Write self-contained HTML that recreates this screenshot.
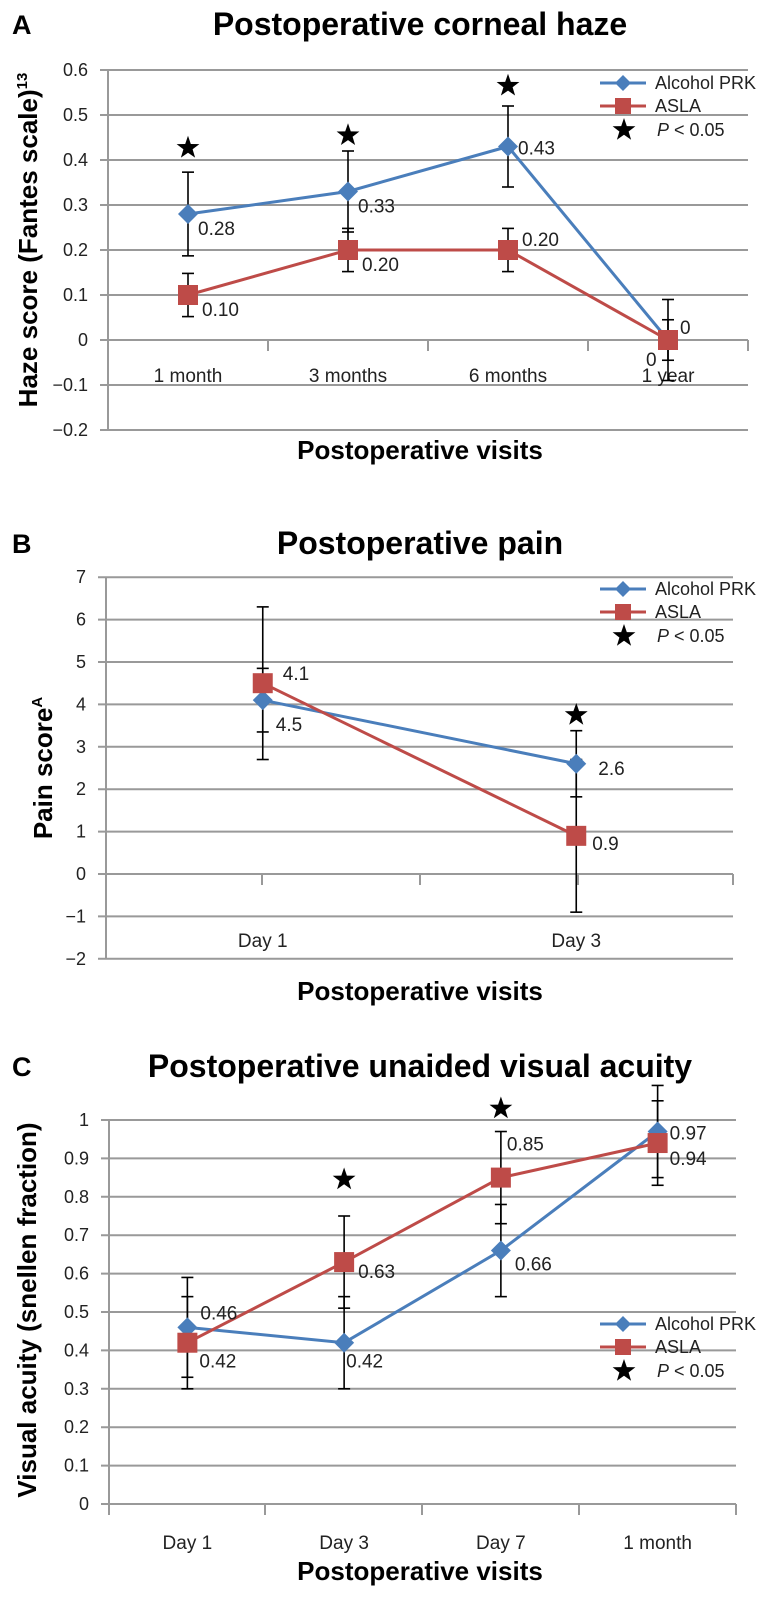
<!DOCTYPE html>
<html><head><meta charset="utf-8">
<style>
html,body{margin:0;padding:0;background:#fff;}
svg{display:block;font-family:"Liberation Sans",Arial,sans-serif;}
</style></head>
<body>
<svg id="fig" width="781" height="1600" viewBox="0 0 781 1600" xmlns="http://www.w3.org/2000/svg">
</svg>
<script>
// ---------- Panel A data ----------
const aCats = ["1 month","3 months","6 months","1 year"];
const aPrk = [0.28,0.33,0.43,0];
const aPrkErr = [0.093,0.09,0.09,0.09];
const aAsla = [0.10,0.20,0.20,0];
const aAslaErr = [0.048,0.048,0.048,0.045];
const aPrkLbl = ["0.28","0.33","0.43","0"];
const aAslaLbl = ["0.10","0.20","0.20","0"];
const aStars = [0.427,0.455,0.565,null];
const aTicks = [0.6,0.5,0.4,0.3,0.2,0.1,0,-0.1,-0.2];
const aTickLbl = ["0.6","0.5","0.4","0.3","0.2","0.1","0","\u22120.1","\u22120.2"];
// ---------- Panel B data ----------
const bCats = ["Day 1","Day 3"];
const bPrk = [4.1,2.6];
const bPrkErr = [0.75,0.78];
const bAsla = [4.5,0.9];
const bAslaErr = [1.8,1.8];
const bPrkLbl = ["4.5","2.6"];
const bAslaLbl = ["4.1","0.9"];
const bStars = [null,3.75];
const bTicks = [7,6,5,4,3,2,1,0,-1,-2];
const bTickLbl = ["7","6","5","4","3","2","1","0","\u22121","\u22122"];
// ---------- Panel C data ----------
const cCats = ["Day 1","Day 3","Day 7","1 month"];
const cPrk = [0.46,0.42,0.66,0.97];
const cPrkErr = [0.13,0.12,0.12,0.12];
const cAsla = [0.42,0.63,0.85,0.94];
const cAslaErr = [0.12,0.12,0.12,0.11];
const cPrkLbl = ["0.46","0.42","0.66","0.97"];
const cAslaLbl = ["0.42","0.63","0.85","0.94"];
const cStars = [null,0.845,1.03,null];
const cTicks = [1,0.9,0.8,0.7,0.6,0.5,0.4,0.3,0.2,0.1,0];
const cTickLbl = ["1","0.9","0.8","0.7","0.6","0.5","0.4","0.3","0.2","0.1","0"];

const NS="http://www.w3.org/2000/svg";
const svg=document.getElementById('fig');
function mk(tag,attrs,parent,text){
  const e=document.createElementNS(NS,tag);
  for(const k in attrs) e.setAttribute(k,attrs[k]);
  if(text!==undefined) e.textContent=text;
  (parent||svg).appendChild(e);
  return e;
}
const BLUE="#4a7ebb", RED="#be4b48", GRID="#999";

function star(g,cx,cy,r){
  let p=[];
  for(let i=0;i<10;i++){const a=-Math.PI/2+i*Math.PI/5;const rr=i%2?r*0.4:r;p.push((cx+rr*Math.cos(a)).toFixed(1)+","+(cy+rr*Math.sin(a)).toFixed(1));}
  return mk('polygon',{points:p.join(' '),fill:'#000'},g);
}
function diamond(g,cx,cy,s){return mk('polygon',{points:`${cx},${cy-s} ${cx+s},${cy} ${cx},${cy+s} ${cx-s},${cy}`,fill:BLUE},g);}
function square(g,cx,cy,s){return mk('rect',{x:cx-s,y:cy-s,width:2*s,height:2*s,fill:RED},g);}

function panel(o){
  const g=mk('g',{});
  
  
  const y=v=>o.y0-(v)*o.k;
  const n=o.cats.length, w=(o.right-o.left)/n;
  const x=i=>o.left+w*(i+0.5);
  const L=mk('text',{x:12,y:o.titleY+10,'font-size':27,'font-weight':'bold'},g,o.letter);
  
  
  const T=mk('text',{x:420,y:o.titleY+11,'font-size':32,'font-weight':'bold','text-anchor':'middle'},g,o.title);
  
  
  o.ticks.forEach((t,i)=>{
    const ln=mk('line',{x1:o.left-8,x2:o.right,y1:y(t),y2:y(t),stroke:GRID,'stroke-width':2},g);
    
    
    const tl=mk('text',{x:o.left-20,y:y(t)+6,'font-size':18,'text-anchor':'end',fill:'#222'},g,o.tickLbl[i]);
    
    
  });
  const ya=mk('line',{x1:o.left,x2:o.left,y1:y(o.ticks[0]),y2:y(o.ticks[o.ticks.length-1]),stroke:GRID,'stroke-width':2},g);
  
  
  o.xticks.forEach(xt=>{
    const tk=mk('line',{x1:xt,x2:xt,y1:y(0),y2:y(0)+11,stroke:GRID,'stroke-width':2},g);
    
    
  });
  o.cats.forEach((c,i)=>{
    const t=mk('text',{x:x(i),y:o.catY,'font-size':19,'text-anchor':'middle',fill:'#222'},g,c);
    
    
  });
  const xt=mk('text',{x:420,y:o.xTitleY,'font-size':26,'font-weight':'bold','text-anchor':'middle'},g,o.xTitle);
  
  
  const yt=mk('text',{x:0,y:0,'font-size':26,'font-weight':'bold','text-anchor':'middle',transform:`translate(${o.yTitleX},${o.yTitleY}) rotate(-90)`},g);
  yt.innerHTML=o.yTitle;
  
  
  const eb=(vals,errs,nm)=>vals.forEach((v,i)=>{
    const e=mk('g',{stroke:'#000','stroke-width':1.6},g);
    
    
    mk('line',{x1:x(i),x2:x(i),y1:y(v-errs[i]),y2:y(v+errs[i])},e);
    mk('line',{x1:x(i)-6,x2:x(i)+6,y1:y(v-errs[i]),y2:y(v-errs[i])},e);
    mk('line',{x1:x(i)-6,x2:x(i)+6,y1:y(v+errs[i]),y2:y(v+errs[i])},e);
  });
  eb(o.asla,o.aslaErr,'asla-error-bar');
  eb(o.prk,o.prkErr,'prk-error-bar');
  const pl=(vals,col,nm)=>{
    const p=mk('polyline',{points:vals.map((v,i)=>x(i)+','+y(v)).join(' '),fill:'none',stroke:col,'stroke-width':3},g);
    
    
  };
  pl(o.prk,BLUE,'prk-line');
  o.prk.forEach((v,i)=>{const d=diamond(g,x(i),y(v),10);
    
    });
  pl(o.asla,RED,'asla-line');
  o.asla.forEach((v,i)=>{const s=square(g,x(i),y(v),10);
    
    });
  o.prk.forEach((v,i)=>{const off=o.prkOff[i];
    const t=mk('text',{x:x(i)+off[0],y:y(v)+off[1],'font-size':19,fill:'#222'},g,o.prkLbl[i]);
    
    });
  o.asla.forEach((v,i)=>{const off=o.aslaOff[i];
    const t=mk('text',{x:x(i)+off[0],y:y(v)+off[1],'font-size':19,fill:'#222'},g,o.aslaLbl[i]);
    
    });
  o.stars.forEach((v,i)=>{ if(v===null) return;
    const s=star(g,x(i),y(v),12);
    
    });
  const lg=mk('g',{},g);
  
  
  const ly=o.legY;
  mk('line',{x1:600,x2:646,y1:ly,y2:ly,stroke:BLUE,'stroke-width':3},lg);
  diamond(lg,623,ly,8);
  mk('text',{x:655,y:ly+6,'font-size':18,fill:'#222'},lg,'Alcohol PRK');
  mk('line',{x1:600,x2:646,y1:ly+23,y2:ly+23,stroke:RED,'stroke-width':3},lg);
  square(lg,623,ly+23,8);
  mk('text',{x:655,y:ly+29,'font-size':18,fill:'#222'},lg,'ASLA');
  star(lg,624,ly+47,12);
  const pt=mk('text',{x:657,y:ly+53,'font-size':18,fill:'#222'},lg);
  pt.innerHTML='<tspan font-style="italic">P</tspan> &lt; 0.05';
}

panel({name:'panel-a-corneal-haze',letter:'A',title:'Postoperative corneal haze',titleY:24,
  left:108,right:748,y0:340,k:450,ticks:aTicks,tickLbl:aTickLbl,xticks:[108,268,428,588,748],
  cats:aCats,catY:382,xTitle:'Postoperative visits',xTitleY:459,
  yTitle:'Haze score (Fantes scale)<tspan font-size="15" dy="-10">13</tspan>',yTitleX:37,yTitleY:240,
  prk:aPrk,prkErr:aPrkErr,asla:aAsla,aslaErr:aAslaErr,prkLbl:aPrkLbl,aslaLbl:aAslaLbl,
  prkOff:[[10,21],[10,21],[10,8],[12,-6]],aslaOff:[[14,21],[14,21],[14,-4],[-22,26]],
  stars:aStars,legY:83});

panel({name:'panel-b-pain',letter:'B',title:'Postoperative pain',titleY:543,
  left:106,right:733,y0:874,k:42.4,ticks:bTicks,tickLbl:bTickLbl,xticks:[262,420,578,733],
  cats:bCats,catY:947,xTitle:'Postoperative visits',xTitleY:1000,
  yTitle:'Pain score<tspan font-size="15" dy="-10">A</tspan>',yTitleX:52,yTitleY:768,
  prk:bPrk,prkErr:bPrkErr,asla:bAsla,aslaErr:bAslaErr,prkLbl:bPrkLbl,aslaLbl:bAslaLbl,
  prkOff:[[13,31],[22,11]],aslaOff:[[20,-3],[16,14]],
  stars:bStars,legY:589});

panel({name:'panel-c-visual-acuity',letter:'C',title:'Postoperative unaided visual acuity',titleY:1066,
  left:109,right:736,y0:1504,k:384,ticks:cTicks,tickLbl:cTickLbl,xticks:[109,265,422,579,736],
  cats:cCats,catY:1549,xTitle:'Postoperative visits',xTitleY:1580,
  yTitle:'Visual acuity (snellen fraction)',yTitleX:36,yTitleY:1310,
  prk:cPrk,prkErr:cPrkErr,asla:cAsla,aslaErr:cAslaErr,prkLbl:cPrkLbl,aslaLbl:cAslaLbl,
  prkOff:[[13,-8],[2,25],[14,20],[12,8]],aslaOff:[[12,25],[14,16],[6,-27],[12,22]],
  stars:cStars,legY:1324});
</script>
</body></html>
